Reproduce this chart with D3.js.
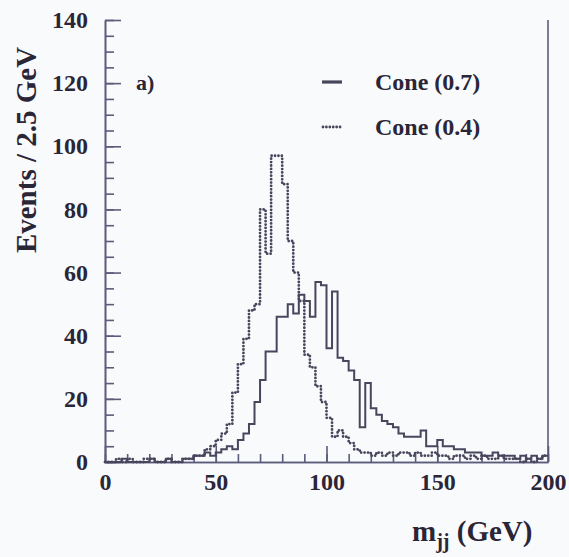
<!DOCTYPE html>
<html>
<head>
<meta charset="utf-8">
<script src="https://cdn.jsdelivr.net/npm/d3@7/dist/d3.min.js"></script>
<style>
	body { margin: 0; background: #f9fafc; }
	text { font-family: "Liberation Serif", "DejaVu Serif", serif; font-weight: bold; fill: #2a2637; }
</style>
</head>
<body>
<svg id="svg_main" width="569" height="557"></svg>
<script>
// events per 2.5 GeV bin, 0 - 200 GeV (80 bins)
var binWidth = 2.5;
var cone07 = [0,0,0,1,0,0,0,0,1,0, 0,1,0,0,1,1,2,2,3,2,
	3,4,5,4,7,9,12,19,26,35, 35,46,46,50,47,53,51,46,57,56,
	36,54,33,32,29,26,11,25,17,15, 13,12,11,9,8,8,8,10,5,5,
	7,5,5,4,4,3,3,3,2,2, 3,2,2,2,1,2,1,2,1,2];
var cone04 = [0,0,1,0,1,0,0,1,1,0, 0,1,0,0,1,1,2,2,4,5,
	7,9,12,22,31,39,48,50,80,66, 97,97,88,70,60,51,34,30,24,19,
	14,8,10,8,6,4,3,3,2,3, 2,3,2,3,3,2,3,2,2,3,
	2,2,1,2,2,1,2,1,2,1, 1,2,1,1,1,0,1,0,1,2];
var seriesNames = ["Cone (0.7)", "Cone (0.4)"];
var yMajor = [0, 20, 40, 60, 80, 100, 120, 140];
var xMajor = [0, 50, 100, 150, 200];

var margin = { top: 20, left: 105, right: 21, bottom: 95 };
var ink = "#48455d";

var svg = d3.select("#svg_main");
var width = 569 - margin.left - margin.right,
	height = 557 - margin.top - margin.bottom;

var g = svg.append("g")
	.attr("transform", `translate(${margin.left}, ${margin.top})`);

var x = d3.scaleLinear().domain([0, 200]).range([0, width]);
var y = d3.scaleLinear().domain([0, 140]).range([height, 0]);

// minor ticks first, majors on top
g.append("g")
	.attr("class", "yMinor")
	.call(d3.axisLeft(y).tickValues(d3.range(0, 141, 5)).tickSize(-9).tickSizeOuter(0).tickFormat(""));
g.append("g")
	.attr("class", "yAxis")
	.call(d3.axisLeft(y).tickValues(yMajor).tickSize(-16).tickSizeOuter(0).tickPadding(17));
g.append("g")
	.attr("class", "xMinor")
	.attr("transform", `translate(0, ${height})`)
	.call(d3.axisBottom(x).tickValues(d3.range(0, 201, 10)).tickSize(-8).tickSizeOuter(0).tickFormat(""));
g.append("g")
	.attr("class", "xAxis")
	.attr("transform", `translate(0, ${height})`)
	.call(d3.axisBottom(x).tickValues(xMajor).tickSize(-16).tickSizeOuter(0).tickPadding(11));

g.selectAll(".domain, .tick line")
	.attr("stroke", "#5d5b7c")
	.attr("stroke-width", 1.6);
g.selectAll(".tick text")
	.attr("font-size", "24px")
	.attr("fill", "#2a2637");

// right side of the frame
g.append("line")
	.attr("x1", width).attr("x2", width)
	.attr("y1", 0).attr("y2", height)
	.attr("stroke", "#5d5b7c")
	.attr("stroke-width", 1.6);

function steps(values) {
	var pts = values.map((v, i) => [i * binWidth, v]);
	pts.push([values.length * binWidth, values[values.length - 1]]);
	return pts;
}

var line = d3.line()
	.x(d => x(d[0]))
	.y(d => y(d[1]))
	.curve(d3.curveStepAfter);

g.append("path")
	.attr("class", "cone07")
	.attr("d", line(steps(cone07)))
	.attr("fill", "none")
	.attr("stroke", ink)
	.attr("stroke-width", 2);

g.append("path")
	.attr("class", "cone04")
	.attr("d", line(steps(cone04)))
	.attr("fill", "none")
	.attr("stroke", ink)
	.attr("stroke-width", 2.8)
	.attr("stroke-linecap", "round")
	.attr("stroke-dasharray", "0.01,3.4");

// legend
var legend = svg.append("g").attr("class", "legend");
legend.append("line")
	.attr("x1", 322).attr("x2", 342)
	.attr("y1", 82).attr("y2", 82)
	.attr("stroke", ink)
	.attr("stroke-width", 3.2);
legend.append("line")
	.attr("x1", 323).attr("x2", 343)
	.attr("y1", 127).attr("y2", 127)
	.attr("stroke", ink)
	.attr("stroke-width", 2.8)
	.attr("stroke-linecap", "round")
	.attr("stroke-dasharray", "0.01,3.4");
legend.selectAll("text.name")
	.data(seriesNames)
	.enter().append("text")
	.attr("class", "name")
	.attr("x", 375)
	.attr("y", (d, i) => 90 + i * 45)
	.attr("font-size", "24px")
	.text(d => d);

svg.append("text")
	.attr("x", 136)
	.attr("y", 90)
	.attr("font-size", "22px")
	.text("a)");

// axis titles
svg.append("text")
	.attr("transform", "translate(36, 150) rotate(-90)")
	.attr("text-anchor", "middle")
	.attr("font-size", "29px")
	.text("Events / 2.5 GeV");

var xt = svg.append("text")
	.attr("x", 412)
	.attr("y", 541)
	.attr("font-size", "29px");
xt.append("tspan").text("m");
xt.append("tspan").attr("dy", 7).attr("font-size", "20px").text("jj");
xt.append("tspan").attr("dy", -7).text(" (GeV)");
</script>
</body>
</html>
